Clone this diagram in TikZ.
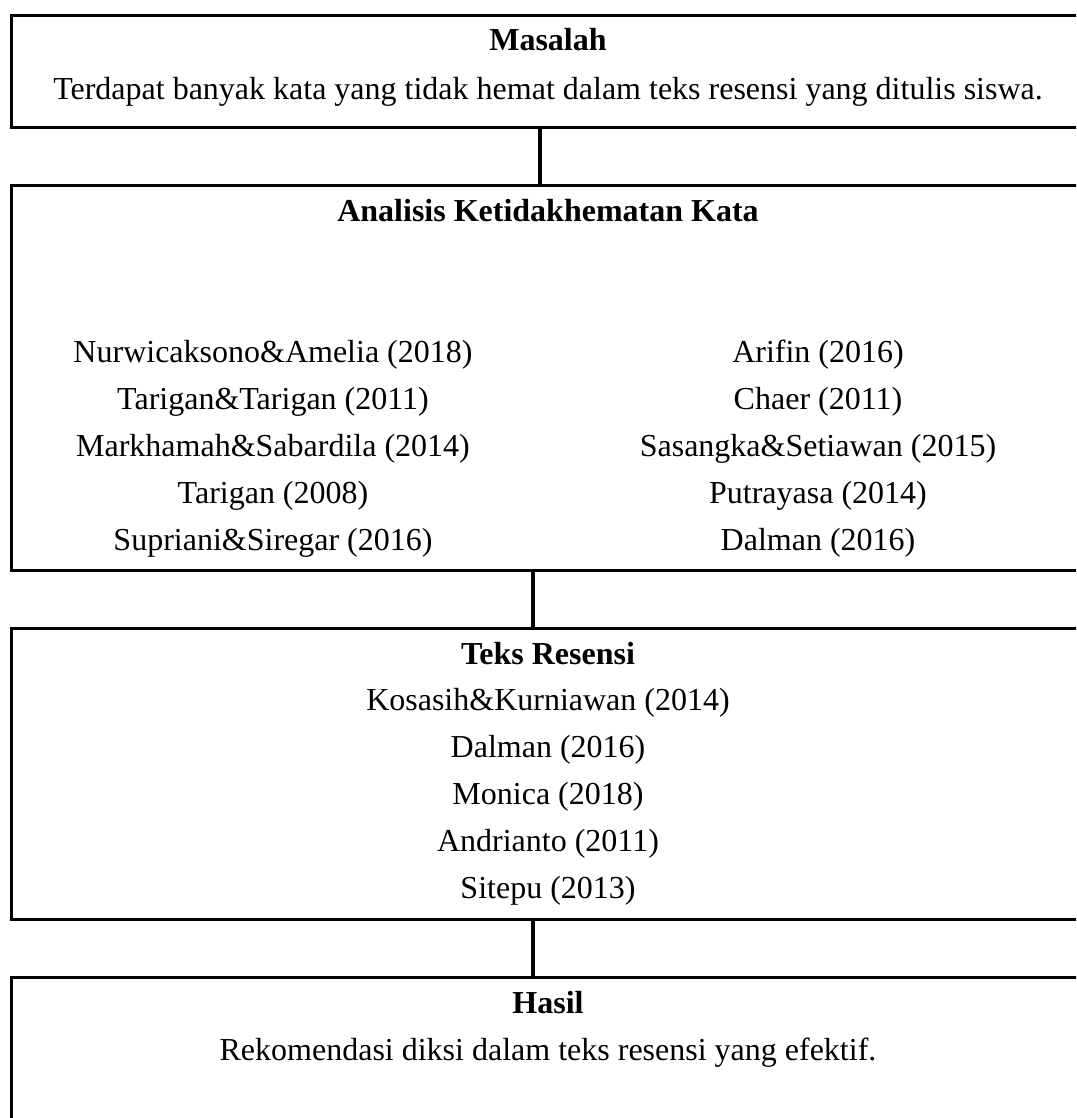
\documentclass[tikz,border=0pt]{standalone}
\usepackage{fontspec}
\setmainfont{Liberation Serif}
\begin{document}
\begin{tikzpicture}[x=1pt,y=-1pt,
  box/.style={draw, line width=3pt, rectangle, inner sep=0pt, anchor=north west, minimum width=1080pt},
  conn/.style={line width=4pt},
  txt/.style={anchor=base, inner sep=0pt, font=\fontsize{32}{38}\selectfont},
  ttl/.style={txt, font=\fontsize{32}{38}\selectfont\bfseries}]
\useasboundingbox (0,0) rectangle (1076,1118);
\clip (0,0) rectangle (1076,1118);
% boxes
\node[box, minimum height=112pt] (b1) at (10,14) {};
\node[box, minimum height=385pt] (b2) at (10,184) {};
\node[box, minimum height=291pt] (b3) at (10,627) {};
\node[box, minimum height=200pt] (b4) at (10,976) {};
% connector positions
\coordinate (c1) at (540,0);
\coordinate (c2) at (533,0);
\coordinate (c3) at (533,0);
\draw[conn] (b1.south -| c1) -- (b2.north -| c1);
\draw[conn] (b2.south -| c2) -- (b3.north -| c2);
\draw[conn] (b3.south -| c3) -- (b4.north -| c3);
% box 1
\node[ttl] (t1) at (548,51) {Masalah};
\node[txt] (m1) at (548,100) {Terdapat banyak kata yang tidak hemat dalam teks resensi yang ditulis siswa.};
% box 2
\node[ttl] (t2) at (548,221) {Analisis Ketidakhematan Kata};
\node[txt] (l1) at (273,362) {Nurwicaksono\&Amelia (2018)};
\node[txt] (l2) at (273,409) {Tarigan\&Tarigan (2011)};
\node[txt] (l3) at (273,456) {Markhamah\&Sabardila (2014)};
\node[txt] (l4) at (273,503) {Tarigan (2008)};
\node[txt] (l5) at (273,550) {Supriani\&Siregar (2016)};
\node[txt] (r1) at (818,362) {Arifin (2016)};
\node[txt] (r2) at (818,409) {Chaer (2011)};
\node[txt] (r3) at (818,456) {Sasangka\&Setiawan (2015)};
\node[txt] (r4) at (818,503) {Putrayasa (2014)};
\node[txt] (r5) at (818,550) {Dalman (2016)};
% box 3
\node[ttl] (t3) at (548,664) {Teks Resensi};
\node[txt] (k1) at (548,710) {Kosasih\&Kurniawan (2014)};
\node[txt] (k2) at (548,757) {Dalman (2016)};
\node[txt] (k3) at (548,804) {Monica (2018)};
\node[txt] (k4) at (548,851) {Andrianto (2011)};
\node[txt] (k5) at (548,898) {Sitepu (2013)};
% box 4
\node[ttl] (t4) at (548,1013) {Hasil};
\node[txt] (h1) at (548,1060) {Rekomendasi diksi dalam teks resensi yang efektif.};
\end{tikzpicture}
\end{document}
